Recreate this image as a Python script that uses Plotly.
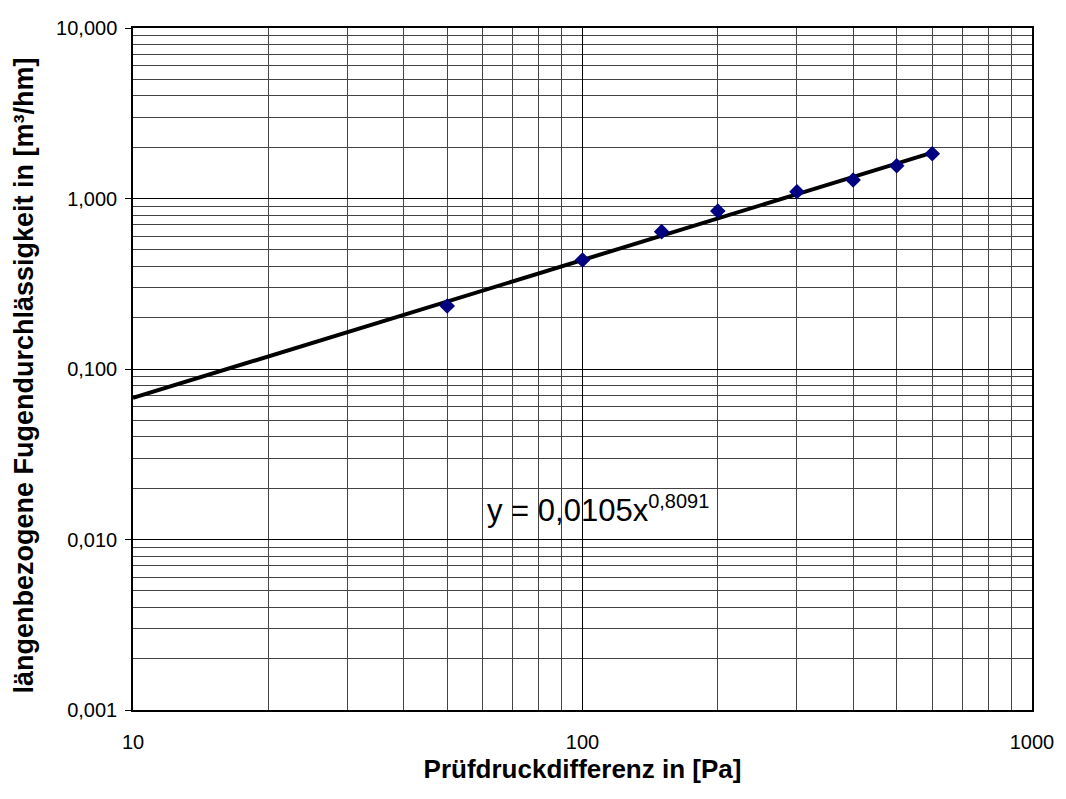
import numpy as np
import plotly.graph_objects as go

# Messwerte: Prüfdruckdifferenz [Pa] und längenbezogene Fugendurchlässigkeit [m³/hm]
pressure_pa = [50, 100, 150, 200, 300, 400, 500, 600]
flow_m3hm = [0.234, 0.436, 0.639, 0.845, 1.096, 1.284, 1.557, 1.831]

# Potenz-Trendlinie y = a * x^b
coef_a = 0.0105
coef_b = 0.8091
trend_x_min = 10
trend_x_max = 600

x_tick_vals = [10, 100, 1000]
x_tick_text = ["10", "100", "1000"]
y_tick_vals = [0.001, 0.01, 0.1, 1, 10]
y_tick_text = ["0,001", "0,010", "0,100", "1,000", "10,000"]

font_family = "Arial, Liberation Sans, sans-serif"

trend_x = np.logspace(np.log10(trend_x_min), np.log10(trend_x_max), 200)
trend_y = coef_a * trend_x ** coef_b

fig = go.Figure()
fig.add_trace(go.Scatter(
    x=trend_x, y=trend_y, mode="lines",
    line=dict(color="black", width=4),
    showlegend=False, hoverinfo="skip",
))
fig.add_trace(go.Scatter(
    x=pressure_pa, y=flow_m3hm, mode="markers",
    marker=dict(symbol="diamond", size=12, color="#000080"),
    showlegend=False,
))

# Gleichung der Trendlinie
fig.add_annotation(
    x=0.391, y=0.294, xref="paper", yref="paper",
    xanchor="left", yanchor="middle", showarrow=False,
    text="y = 0,0105x<sup><span style='font-size:20px'>0,8091</span></sup>",
    font=dict(family=font_family, size=31, color="black"),
)

# Titel der y-Achse, senkrecht am linken Rand
fig.add_annotation(
    x=-0.1215, y=0.49, xref="paper", yref="paper",
    xanchor="center", yanchor="middle", showarrow=False, textangle=-90,
    text="<b>längenbezogene Fugendurchlässigkeit in [m³/hm]</b>",
    font=dict(family=font_family, size=27, color="black"),
)

axis_common = dict(
    type="log",
    showline=True, linecolor="black", linewidth=1.5, mirror=True,
    showgrid=True, gridcolor="black", gridwidth=1,
    zeroline=False,
    tickfont=dict(family=font_family, size=20, color="black"),
)

fig.update_xaxes(
    **axis_common,
    range=[1, 3],
    tickvals=x_tick_vals, ticktext=x_tick_text,
    ticks="", ticklabelstandoff=13,
    minor=dict(dtick="D1", showgrid=True, gridcolor="#444444", gridwidth=1, ticks=""),
    title=dict(text="<b>Prüfdruckdifferenz in [Pa]</b>", standoff=8,
               font=dict(family=font_family, size=26, color="black")),
)
fig.update_yaxes(
    **axis_common,
    range=[-3, 1],
    tickvals=y_tick_vals, ticktext=y_tick_text,
    ticks="outside", ticklen=6, tickcolor="black", ticklabelstandoff=4,
    minor=dict(dtick="D1", showgrid=True, gridcolor="#444444", gridwidth=1, ticks=""),
)

fig.update_layout(
    width=1066, height=799,
    margin=dict(l=133, r=27, t=28, b=89),
    paper_bgcolor="white", plot_bgcolor="white",
    font=dict(family=font_family, color="black"),
)

fig.write_html("out.html")
